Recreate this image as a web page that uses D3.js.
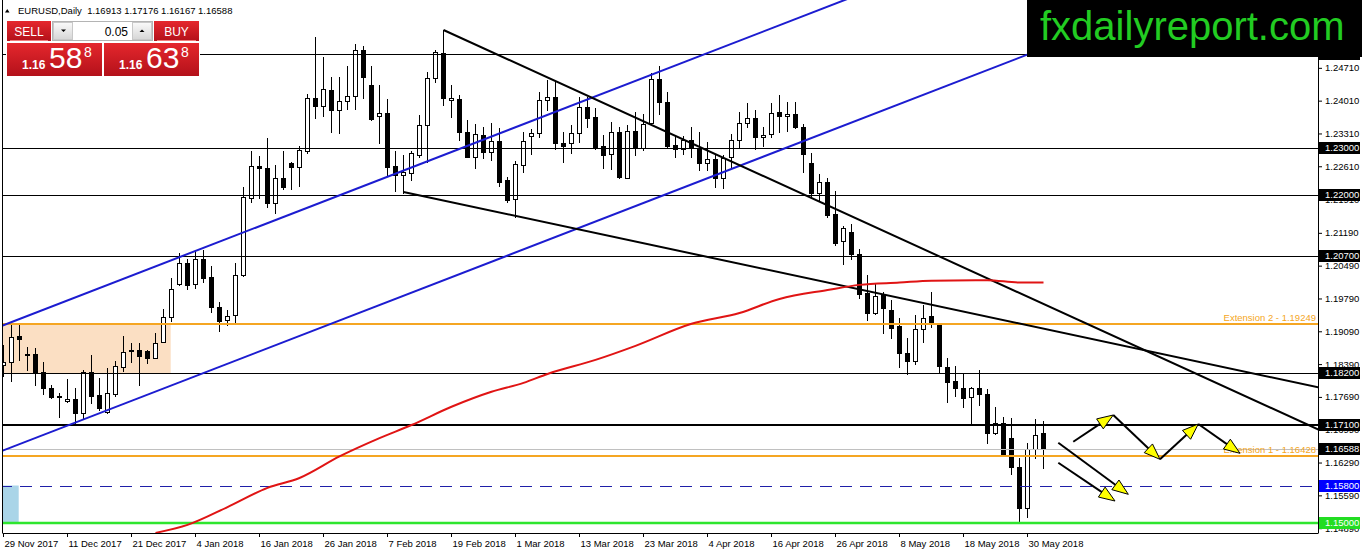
<!DOCTYPE html>
<html>
<head>
<meta charset="utf-8">
<script src="https://cdnjs.cloudflare.com/ajax/libs/d3/7.8.5/d3.min.js"></script>
<style>
  html, body { margin: 0; padding: 0; background: #fff; }
  svg { display: block; }
  text { font-family: Tahoma, "Liberation Sans", Arial, sans-serif; }
</style>
</head>
<body>
<svg id="chart" width="1362" height="554"></svg>
<script>
const symbolTitle = "EURUSD,Daily  1.16913 1.17176 1.16167 1.16588";

// daily candles, 29 Nov 2017 .. 1 Jun 2018
const opens = [1.1837,1.1843,1.1899,1.1858,1.1861,1.1822,1.1789,1.1771,1.1760,1.1764,
  1.1735,1.1822,1.1773,1.1737,1.1775,1.1833,1.1867,1.1869,1.1867,1.1853,
  1.1887,1.1939,1.2009,1.2054,1.2009,1.2063,1.2024,1.1961,1.1933,1.1944,
  1.2029,1.2193,1.2262,1.2258,1.2182,1.2237,1.2269,1.2259,1.2294,1.2406,
  1.2390,1.2424,1.2380,1.2400,1.2411,1.2508,1.2434,1.2369,1.2374,1.2262,
  1.2242,1.2247,1.2285,1.2349,1.2449,1.2502,1.2402,1.2405,1.2335,1.2280,
  1.2328,1.2291,1.2315,1.2232,1.2191,1.2264,1.2326,1.2333,1.2402,1.2409,
  1.2311,1.2310,1.2331,1.2388,1.2366,1.2304,1.2287,1.2334,1.2237,1.2337,
  1.2299,1.2353,1.2447,1.2399,1.2306,1.2297,1.2318,1.2301,1.2267,1.2276,
  1.2237,1.2281,1.2318,1.2353,1.2365,1.2323,1.2330,1.2377,1.2368,1.2372,
  1.2344,1.2269,1.2205,1.2228,1.2159,1.2102,1.2120,1.2074,1.1991,1.1947,
  1.1986,1.1954,1.1920,1.1862,1.1846,1.1913,1.1942,1.1924,1.1833,1.1804,
  1.1789,1.1768,1.1787,1.1775,1.1691,1.1714,1.1681,1.1619,1.1533,1.1657,
  1.16913];
const highs = [1.1880,1.1922,1.1922,1.1875,1.1873,1.1844,1.1794,1.1777,1.1807,1.1788,
  1.1826,1.1858,1.1809,1.1831,1.1846,1.1899,1.1885,1.1883,1.1869,1.1906,
  1.1956,1.2022,1.2077,1.2063,1.2082,1.2082,1.2048,1.1972,1.1954,1.2055,
  1.2217,1.2294,1.2283,1.2321,1.2264,1.2294,1.2271,1.2304,1.2415,1.2537,
  1.2495,1.2452,1.2452,1.2475,1.2522,1.2518,1.2475,1.2434,1.2404,1.2294,
  1.2285,1.2294,1.2370,1.2463,1.2509,1.2552,1.2434,1.2412,1.2360,1.2351,
  1.2345,1.2353,1.2343,1.2239,1.2272,1.2334,1.2340,1.2420,1.2445,1.2443,
  1.2335,1.2349,1.2409,1.2409,1.2385,1.2328,1.2356,1.2345,1.2349,1.2377,
  1.2373,1.2459,1.2475,1.2420,1.2328,1.2325,1.2345,1.2335,1.2313,1.2285,
  1.2285,1.2330,1.2377,1.2397,1.2380,1.2345,1.2395,1.2413,1.2399,1.2399,
  1.2351,1.2289,1.2245,1.2237,1.2209,1.2133,1.2138,1.2084,1.2029,1.2010,
  1.1993,1.1976,1.1937,1.1894,1.1944,1.1965,1.1993,1.1926,1.1851,1.1835,
  1.1821,1.1791,1.1826,1.1785,1.1747,1.1727,1.1725,1.1638,1.1671,1.1721,
  1.17176];
const lows = [1.1814,1.1803,1.1848,1.1826,1.1794,1.1775,1.1766,1.1726,1.1759,1.1713,
  1.1725,1.1756,1.1741,1.1735,1.1772,1.1825,1.1844,1.1794,1.1841,1.1851,
  1.1887,1.1932,1.2008,1.1999,1.2001,1.2015,1.1951,1.1910,1.1922,1.1926,
  1.2027,1.2185,1.2193,1.2175,1.2162,1.2212,1.2212,1.2219,1.2290,1.2363,
  1.2368,1.2335,1.2333,1.2383,1.2383,1.2406,1.2360,1.2311,1.2242,1.2209,
  1.2204,1.2232,1.2281,1.2271,1.2440,1.2392,1.2367,1.2317,1.2280,1.2258,
  1.2279,1.2274,1.2219,1.2185,1.2153,1.2249,1.2287,1.2324,1.2381,1.2298,
  1.2271,1.2289,1.2312,1.2345,1.2298,1.2258,1.2255,1.2237,1.2237,1.2285,
  1.2296,1.2353,1.2373,1.2303,1.2281,1.2287,1.2280,1.2252,1.2253,1.2216,
  1.2214,1.2260,1.2299,1.2345,1.2297,1.2304,1.2323,1.2335,1.2337,1.2342,
  1.2249,1.2196,1.2189,1.2153,1.2093,1.2052,1.2063,1.1979,1.1934,1.1946,
  1.1906,1.1894,1.1833,1.1818,1.1839,1.1887,1.1919,1.1819,1.1759,1.1771,
  1.1747,1.1713,1.1752,1.1671,1.1690,1.1643,1.1604,1.1505,1.1513,1.1638,
  1.16167];
const closes = [1.1843,1.1897,1.1892,1.1860,1.1821,1.1789,1.1768,1.1772,1.1764,1.1735,
  1.1822,1.1772,1.1745,1.1777,1.1835,1.1865,1.1870,1.1857,1.1853,1.1883,
  1.1939,1.1999,1.2054,1.2008,1.2063,1.2022,1.1961,1.1932,1.1942,1.2029,
  1.2196,1.2262,1.2257,1.2182,1.2237,1.2217,1.2259,1.2296,1.2406,1.2390,
  1.2425,1.2380,1.2400,1.2411,1.2509,1.2452,1.2361,1.2374,1.2260,1.2242,
  1.2249,1.2290,1.2349,1.2449,1.2504,1.2406,1.2406,1.2335,1.2280,1.2329,
  1.2291,1.2315,1.2228,1.2189,1.2265,1.2315,1.2331,1.2402,1.2409,1.2310,
  1.2305,1.2331,1.2388,1.2365,1.2299,1.2285,1.2334,1.2239,1.2336,1.2302,
  1.2351,1.2447,1.2399,1.2304,1.2297,1.2317,1.2299,1.2269,1.2276,1.2237,
  1.2278,1.2318,1.2353,1.2365,1.2324,1.2328,1.2375,1.2368,1.2372,1.2345,
  1.2287,1.2205,1.2228,1.2157,1.2098,1.2129,1.2074,1.1988,1.1947,1.1984,
  1.1958,1.1917,1.1862,1.1846,1.1913,1.1937,1.1924,1.1835,1.1801,1.1789,
  1.1766,1.1787,1.1775,1.1691,1.1714,1.1643,1.1619,1.1533,1.1657,1.1688,
  1.16588];

const tickBars = [0, 8, 16, 24, 32, 40, 48, 56, 64, 72, 80, 88, 96, 104, 112, 120, 128];
const tickLabels = ["29 Nov 2017", "11 Dec 2017", "21 Dec 2017", "4 Jan 2018", "16 Jan 2018",
  "26 Jan 2018", "7 Feb 2018", "19 Feb 2018", "1 Mar 2018", "13 Mar 2018", "23 Mar 2018",
  "4 Apr 2018", "16 Apr 2018", "26 Apr 2018", "8 May 2018", "18 May 2018", "30 May 2018"];
const priceTicks = [1.24710, 1.24010, 1.23310, 1.22610, 1.21910, 1.21190, 1.20490, 1.19790,
  1.19090, 1.18390, 1.17690, 1.16990, 1.16290, 1.15590, 1.14890];

// 200 day moving average, read at a few bars
const maBars = [19, 23, 28, 33, 37, 42, 47, 51, 56, 61, 65, 68, 74, 79, 86, 92, 97, 103, 107, 112, 116, 123, 127, 130];
const maValues = [1.1479, 1.1496, 1.1534, 1.1575, 1.1596, 1.1642, 1.1681, 1.1709, 1.1748, 1.1780, 1.1799, 1.1818,
  1.1848, 1.1878, 1.1925, 1.1948, 1.1978, 1.1997, 1.2008, 1.2013, 1.2017, 1.2018, 1.2013, 1.2013];

const plainLevels = [1.25, 1.23, 1.22, 1.207, 1.182];
const keyLevel = 1.171;
const bidPrice = 1.16588;
const dashedLevel = 1.158;
const floorLevel = 1.15;
const extensionLevels = [1.19249, 1.16428];
const extensionNames = ["Extension 2", "Extension 1"];

const channelUpper = [[0, 1.19221], [100, 1.25817]];
const channelLower = [[0, 1.16550], [100, 1.23146]];
const trendHigh = [[55, 1.25517], [130, 1.19673]];
const trendLow = [[50, 1.22061], [130, 1.19146]];

const zoneBars = [-1, 20.9];
const zonePrices = [1.1820, 1.19249];
const boxBars = [-1, 1.9];
const boxPrices = [1.150, 1.158];

const arrowZigzag = [[133.72, 1.16734], [138.72, 1.17304], [144.56, 1.16359], [149.35, 1.17112], [154.56, 1.16487]];
const arrowDownA = [[131.85, 1.16713], [140.6, 1.15612]];
const arrowDownB = [[131.85, 1.16286], [138.94, 1.15469]];

const sellQuote = ["1.16", "58", "8"];
const buyQuote = ["1.16", "63", "8"];
const lotSize = "0.05";

var svg = d3.select("#chart"),
    width = +svg.attr("width"),
    height = +svg.attr("height");

var x = d3.scaleLinear().domain([-0.125, 164.375]).range([2.5, 1318.5]);
var y = d3.scaleLinear().domain([1.14787, 1.26157]).range([533, 0]);
var px = v => Math.round(y(v)) + 0.5;
var axisFont = 9.5;

var defs = svg.append("defs");
defs.append("clipPath").attr("id", "plot")
  .append("rect").attr("x", 3).attr("y", 0).attr("width", 1315).attr("height", 533);

var redGrad = defs.append("linearGradient").attr("id", "redGrad")
  .attr("x1", 0).attr("y1", 0).attr("x2", 0).attr("y2", 1);
redGrad.append("stop").attr("offset", "0%").attr("stop-color", "#e5272d");
redGrad.append("stop").attr("offset", "100%").attr("stop-color", "#b3111a");
var grayGrad = defs.append("linearGradient").attr("id", "grayGrad")
  .attr("x1", 0).attr("y1", 0).attr("x2", 0).attr("y2", 1);
grayGrad.append("stop").attr("offset", "0%").attr("stop-color", "#fafafa");
grayGrad.append("stop").attr("offset", "100%").attr("stop-color", "#d6d6d6");

var plot = svg.append("g").attr("clip-path", "url(#plot)");

// background zones
plot.append("rect")
  .attr("x", x(zoneBars[0])).attr("width", x(zoneBars[1]) - x(zoneBars[0]))
  .attr("y", y(zonePrices[1])).attr("height", y(zonePrices[0]) - y(zonePrices[1]))
  .attr("fill", "#fbdfc3");
plot.append("rect")
  .attr("x", x(boxBars[0])).attr("width", x(boxBars[1]) - x(boxBars[0]))
  .attr("y", y(boxPrices[1])).attr("height", y(boxPrices[0]) - y(boxPrices[1]))
  .attr("fill", "#aad5e8");

// candles
var bars = d3.range(opens.length);
var candle = plot.append("g").attr("shape-rendering", "crispEdges")
  .selectAll("g").data(bars).enter().append("g");
candle.append("line")
  .attr("x1", i => x(i)).attr("x2", i => x(i))
  .attr("y1", i => Math.round(y(highs[i])))
  .attr("y2", i => Math.round(y(lows[i])) + 1)
  .attr("stroke", "#000");
candle.append("rect")
  .attr("x", i => x(i) - 2)
  .attr("width", 4)
  .attr("y", i => Math.round(y(Math.max(opens[i], closes[i]))) + 0.5)
  .attr("height", i => Math.max(1, Math.round(y(Math.min(opens[i], closes[i]))) - Math.round(y(Math.max(opens[i], closes[i])))))
  .attr("fill", i => closes[i] >= opens[i] ? "#fff" : "#000")
  .attr("stroke", "#000");

// horizontal levels
plot.selectAll(".lvl").data(plainLevels).enter().append("line")
  .attr("x1", 0).attr("x2", 1318).attr("y1", d => px(d)).attr("y2", d => px(d))
  .attr("stroke", "#000").attr("stroke-width", 1);
plot.append("line").attr("x1", 0).attr("x2", 1318)
  .attr("y1", Math.round(y(keyLevel))).attr("y2", Math.round(y(keyLevel)))
  .attr("stroke", "#000").attr("stroke-width", 2);
plot.append("line").attr("x1", 0).attr("x2", 1318)
  .attr("y1", px(bidPrice)).attr("y2", px(bidPrice))
  .attr("stroke", "#c0c0c0").attr("stroke-width", 1);
plot.selectAll(".ext").data(extensionLevels).enter().append("line")
  .attr("x1", 0).attr("x2", 1318)
  .attr("y1", d => Math.round(y(d))).attr("y2", d => Math.round(y(d)))
  .attr("stroke", "#f5a623").attr("stroke-width", 2);
plot.append("line").attr("x1", 0).attr("x2", 1318)
  .attr("y1", px(dashedLevel)).attr("y2", px(dashedLevel))
  .attr("stroke", "#1f1fa8").attr("stroke-width", 1).attr("stroke-dasharray", "12,8");
plot.append("line").attr("x1", 0).attr("x2", 1318)
  .attr("y1", Math.round(y(floorLevel))).attr("y2", Math.round(y(floorLevel)))
  .attr("stroke", "#2ee62e").attr("stroke-width", 2.5);

// trend lines, extended as rays
function priceAt(pts, bar) {
  var b1 = pts[0][0], p1 = pts[0][1], b2 = pts[1][0], p2 = pts[1][1];
  return p1 + (p2 - p1) * (bar - b1) / (b2 - b1);
}
function ray(pts, fromBar, color) {
  plot.append("line")
    .attr("x1", x(fromBar)).attr("y1", y(priceAt(pts, fromBar)))
    .attr("x2", x(170)).attr("y2", y(priceAt(pts, 170)))
    .attr("stroke", color).attr("stroke-width", 2);
}
ray(channelUpper, -5, "#1c1cd0");
ray(channelLower, -5, "#1c1cd0");
ray(trendHigh, trendHigh[0][0], "#000");
ray(trendLow, trendLow[0][0], "#000");

// moving average
plot.append("path")
  .datum(d3.zip(maBars, maValues))
  .attr("d", d3.line().curve(d3.curveMonotoneX).x(d => x(d[0])).y(d => y(d[1])))
  .attr("fill", "none").attr("stroke", "#e01414").attr("stroke-width", 2);

// extension labels
svg.selectAll(".extlbl").data(extensionLevels).enter().append("text")
  .attr("x", 1316).attr("y", d => Math.round(y(d)) - 3)
  .attr("text-anchor", "end").attr("font-size", axisFont).attr("fill", "#f5a623")
  .text((d, i) => extensionNames[i] + " - " + d3.format(".5f")(d));

// arrows
function arrows(pts) {
  for (var k = 1; k < pts.length; k++) {
    var x0 = x(pts[k - 1][0]), y0 = y(pts[k - 1][1]);
    var x1 = x(pts[k][0]), y1 = y(pts[k][1]);
    var len = Math.hypot(x1 - x0, y1 - y0), ux = (x1 - x0) / len, uy = (y1 - y0) / len;
    svg.append("line").attr("x1", x0).attr("y1", y0).attr("x2", x1 - ux * 6).attr("y2", y1 - uy * 6)
      .attr("stroke", "#000").attr("stroke-width", 2);
    var bx = x1 - ux * 16, by = y1 - uy * 16;
    svg.append("polygon")
      .attr("points", [[x1, y1], [bx - uy * 6, by + ux * 6], [bx + uy * 6, by - ux * 6]].join(" "))
      .attr("fill", "#ffff00").attr("stroke", "#000").attr("stroke-width", 1);
  }
}
arrows(arrowZigzag);
arrows(arrowDownA);
arrows(arrowDownB);

// frame and axes
svg.append("line").attr("x1", 2.5).attr("x2", 2.5).attr("y1", 0).attr("y2", 533)
  .attr("stroke", "#000");

var xAxis = d3.axisBottom(x.copy().range([2, 1318]))
  .tickValues(tickBars).tickFormat((d, i) => tickLabels[i])
  .tickSize(4).tickPadding(3).tickSizeOuter(0);
var gx = svg.append("g").attr("transform", "translate(0,533)").call(xAxis);
gx.selectAll("text").attr("text-anchor", "start").attr("x", 1)
  .attr("font-size", axisFont).attr("font-family", null).attr("fill", "#000");

var yAxis = d3.axisRight(y).tickValues(priceTicks).tickFormat(d3.format(".5f"))
  .tickSize(4).tickPadding(3).tickSizeOuter(0);
var gy = svg.append("g").attr("transform", "translate(1318,0)").call(yAxis);
gy.selectAll("text").attr("font-size", axisFont).attr("font-family", null).attr("fill", "#000");
gy.select(".domain").attr("d", "M0.5,0V533");

// price boxes on the right scale
var priceBoxes = plainLevels.concat([keyLevel, bidPrice, dashedLevel, floorLevel]);
var boxColors = ["#000", "#000", "#000", "#000", "#000", "#000", "#000", "#0000ff", "#22dd22"];
var pb = svg.selectAll(".pbox").data(priceBoxes).enter().append("g")
  .attr("transform", d => "translate(1319," + Math.round(y(d)) + ")");
pb.append("rect").attr("x", 0).attr("y", -6).attr("width", 41).attr("height", 12)
  .attr("fill", (d, i) => boxColors[i]);
pb.append("text").attr("x", 6).attr("dy", "0.35em").attr("font-size", axisFont).attr("fill", "#fff")
  .text(d => d3.format(".5f")(d));

// title
svg.append("polygon").attr("points", "5,12.5 9.5,12.5 7.25,9").attr("fill", "#000");
svg.append("text").attr("x", 18).attr("y", 14).attr("font-size", 9.5)
  .style("white-space", "pre").text(symbolTitle);

// one click trading panel
var panel = svg.append("g");
panel.append("rect").attr("x", 6).attr("y", 20).attr("width", 194).attr("height", 57).attr("fill", "#fff");
panel.append("rect").attr("x", 7).attr("y", 21).attr("width", 44).attr("height", 20).attr("fill", "url(#redGrad)");
panel.append("rect").attr("x", 154).attr("y", 21).attr("width", 45).attr("height", 20).attr("fill", "url(#redGrad)");
panel.append("line").attr("x1", 10).attr("x2", 48).attr("y1", 40.5).attr("y2", 40.5).attr("stroke", "#f27a7a");
panel.append("line").attr("x1", 157).attr("x2", 196).attr("y1", 40.5).attr("y2", 40.5).attr("stroke", "#f27a7a");
panel.append("text").attr("x", 29).attr("y", 36).attr("text-anchor", "middle")
  .attr("font-size", 12).attr("fill", "#fff").text("SELL");
panel.append("text").attr("x", 176.5).attr("y", 36).attr("text-anchor", "middle")
  .attr("font-size", 12).attr("fill", "#fff").text("BUY");
panel.append("rect").attr("x", 52.5).attr("y", 21.5).attr("width", 100).attr("height", 19)
  .attr("fill", "#fff").attr("stroke", "#b4b4b4");
panel.append("rect").attr("x", 53.5).attr("y", 22.5).attr("width", 19).attr("height", 17)
  .attr("fill", "url(#grayGrad)").attr("stroke", "#c8c8c8");
panel.append("rect").attr("x", 132.5).attr("y", 22.5).attr("width", 19).attr("height", 17)
  .attr("fill", "url(#grayGrad)").attr("stroke", "#c8c8c8");
panel.append("polygon").attr("points", "61,29.5 66,29.5 63.5,32").attr("fill", "#000");
panel.append("polygon").attr("points", "139.5,32 144.5,32 142,29.5").attr("fill", "#000");
panel.append("text").attr("x", 128).attr("y", 36).attr("text-anchor", "end")
  .attr("font-size", 12).attr("fill", "#000").text(lotSize);

function quoteBox(x0, q) {
  panel.append("rect").attr("x", x0).attr("y", 43).attr("width", 95).attr("height", 33)
    .attr("fill", "url(#redGrad)");
  panel.append("text").attr("x", x0 + 15).attr("y", 69).attr("font-size", 12)
    .attr("font-weight", "bold").attr("fill", "#fff").text(q[0]);
  panel.append("text").attr("x", x0 + 42).attr("y", 68).attr("font-size", 30)
    .attr("fill", "#fff").text(q[1]);
  panel.append("text").attr("x", x0 + 77).attr("y", 57).attr("font-size", 14)
    .attr("fill", "#fff").text(q[2]);
}
quoteBox(7, sellQuote);
quoteBox(104, buyQuote);

// site logo
svg.append("rect").attr("x", 1027).attr("y", 0).attr("width", 335).attr("height", 57).attr("fill", "#000");
svg.append("text").attr("x", 1040).attr("y", 40).attr("font-size", 40)
  .attr("font-family", "'Liberation Sans', Arial, sans-serif")
  .attr("fill", "#22cc22").text("fxdailyreport.com");
</script>
</body>
</html>
